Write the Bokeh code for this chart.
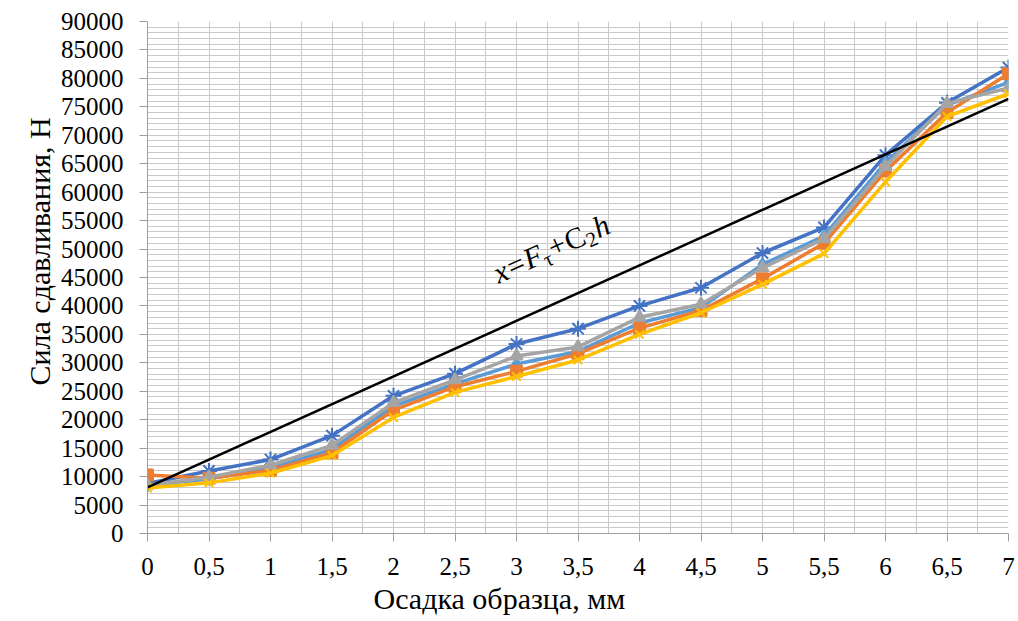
import math

from bokeh.embed import file_html
from bokeh.models import FixedTicker, Label, Range1d, Title
from bokeh.plotting import figure
from bokeh.resources import INLINE

# Settlement of the sample, mm
x_mm = [0, 0.5, 1, 1.5, 2, 2.5, 3, 3.5, 4, 4.5, 5, 5.5, 6, 6.5, 7]
x_labels = ["0", "0,5", "1", "1,5", "2", "2,5", "3", "3,5", "4", "4,5", "5", "5,5", "6", "6,5", "7"]

# Compression force, N — five test runs
run_blue = [8800, 11000, 13000, 17200, 24200, 28100, 33300, 36000, 40000, 43200, 49300, 53800, 66500, 75700, 81900]
run_lightblue = [8500, 9600, 11500, 14800, 22400, 26300, 29800, 32000, 37000, 39700, 47300, 52300, 65200, 75300, 79300]
run_orange = [10300, 9700, 11100, 14200, 21700, 25800, 28500, 31600, 36100, 39200, 44800, 51000, 63700, 74000, 80800]
run_gray = [8500, 9900, 12000, 15500, 23000, 27000, 31200, 32800, 38000, 40300, 46700, 51800, 64500, 75600, 78300]
run_yellow = [8000, 8900, 10600, 13700, 20400, 24800, 27600, 30500, 35000, 38800, 43800, 49200, 61800, 73300, 77300]

# Straight line x = F_t + C_2 h
model_x = [0, 7]
model_y = [8100, 76400]

y_ticks = list(range(0, 90001, 5000))

FONT = "Times New Roman"
W, H = 1018, 621
LEFT, RIGHT, TOP, BOTTOM = 147, 10, 21, 88
FRAME_W, FRAME_H = W - LEFT - RIGHT, H - TOP - BOTTOM
X_MAX, Y_MAX = 7, 90000

p = figure(
    width=W, height=H,
    output_backend="svg", toolbar_location=None,
    x_range=Range1d(0, X_MAX), y_range=Range1d(0, Y_MAX),
    min_border_left=LEFT, min_border_right=RIGHT,
    min_border_top=TOP, min_border_bottom=BOTTOM,
)
p.outline_line_color = None
p.background_fill_color = "white"
p.border_fill_color = "white"

# Dense grid: 0.25 mm vertically, 1000 N horizontally
grid_color = "#C9C9C9"
p.xgrid.ticker = FixedTicker(ticks=[i * 0.25 for i in range(29)])
p.ygrid.ticker = FixedTicker(ticks=list(range(0, 90001, 1000)))
p.xgrid.grid_line_color = grid_color
p.ygrid.grid_line_color = grid_color
p.xgrid.grid_line_width = 1
p.ygrid.grid_line_width = 1

axis_color = "#9E9E9E"
for ax in (p.xaxis[0], p.yaxis[0]):
    ax.axis_line_color = axis_color
    ax.major_tick_line_color = axis_color
    ax.minor_tick_line_color = None
    ax.major_tick_in = 0
    ax.major_tick_out = 8
    ax.major_label_text_font = FONT
    ax.major_label_text_font_size = "25px"
    ax.major_label_text_color = "black"

p.xaxis.ticker = FixedTicker(ticks=x_mm)
p.xaxis.major_label_overrides = {float(v): s for v, s in zip(x_mm, x_labels)}
p.xaxis.major_label_standoff = 16
p.yaxis.ticker = FixedTicker(ticks=y_ticks)
p.yaxis.major_label_overrides = {float(v): str(v) for v in y_ticks}
p.yaxis.major_label_standoff = 16

# Test runs
series = [
    (run_blue, "#4472C4", "asterisk", 16),
    (run_lightblue, "#5B9BD5", "diamond", 12),
    (run_orange, "#ED7D31", "square", 11),
    (run_gray, "#A5A5A5", "triangle", 12),
    (run_yellow, "#FFC000", "x", 12),
]
for ys, color, marker, size in series:
    p.line(x_mm, ys, line_color=color, line_width=3.5)
    p.scatter(x_mm, ys, marker=marker, size=size, line_color=color,
              fill_color=color, line_width=2)

p.line(model_x, model_y, line_color="black", line_width=2.5)

# Formula written along the straight line
dx_px = (model_x[1] - model_x[0]) / X_MAX * FRAME_W
dy_px = (model_y[1] - model_y[0]) / Y_MAX * FRAME_H
theta = math.atan2(dy_px, dx_px)
ux, uy = math.cos(theta), math.sin(theta)
nx, ny = math.sin(theta), -math.cos(theta)

fs = 30
pieces = [
    ("x", 1.0, 0.0, "italic", 0.50),
    ("=", 1.0, 0.0, "normal", 0.60),
    ("F", 1.0, 0.0, "italic", 0.60),
    ("τ", 0.7, 0.28, "normal", 0.45),
    ("+", 1.0, 0.0, "normal", 0.58),
    ("C", 1.0, 0.0, "normal", 0.67),
    ("2", 0.7, 0.28, "normal", 0.55),
    ("h", 1.0, 0.0, "italic", 0.50),
]
anchor_x, anchor_y = 2.82, 45600
adv = 0.0
for txt, scale, drop, style, w_em in pieces:
    size = fs * scale
    ox = adv * ux + drop * fs * nx
    oy = adv * uy + drop * fs * ny
    p.add_layout(Label(
        x=anchor_x, y=anchor_y, x_offset=ox, y_offset=oy,
        text=txt, angle=theta,
        text_font=FONT, text_font_style=style,
        text_font_size=f"{size:.1f}px", text_color="black",
        text_align="left", text_baseline="alphabetic",
    ))
    adv += w_em * size

# Axis titles
p.add_layout(Title(
    text="Осадка образца, мм", align="left", offset=226,
    text_font=FONT, text_font_size="30px", text_font_style="normal",
    text_color="black", standoff=4,
), "below")
p.add_layout(Title(
    text="Сила сдавливания, Н", align="left", offset=148,
    text_font=FONT, text_font_size="30px", text_font_style="normal",
    text_color="black", standoff=4,
), "left")

open("out.html", "w").write(file_html(p, INLINE))
